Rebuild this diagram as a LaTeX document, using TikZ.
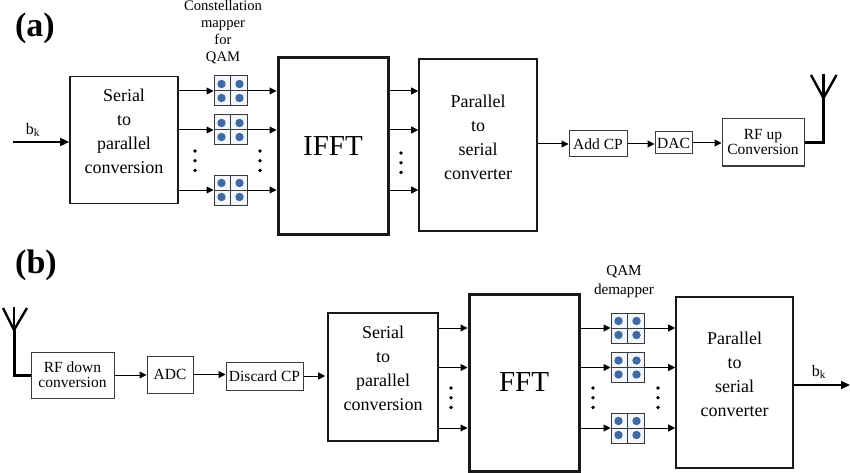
\documentclass[tikz,border=0pt]{standalone}
\usepackage{fontspec}
\setmainfont{Liberation Serif}
\usetikzlibrary{calc, arrows.meta}
\definecolor{dotblue}{HTML}{3F69A0}
\definecolor{cellfill}{HTML}{F3F6FA}
\definecolor{edgegray}{HTML}{3A3A3A}
\tikzset{
  bigbox/.style={draw=black!90, line width=1.6pt, inner sep=0pt, align=center, font=\fontsize{18}{24}\selectfont},
  fftbox/.style={draw=black!90, line width=3pt, inner sep=0pt, font=\fontsize{29}{34}\selectfont},
  smallbox/.style={draw=edgegray, line width=1pt, inner sep=0pt, align=center, font=\fontsize{15.5}{15}\selectfont},
  mapbox/.style={draw=edgegray, line width=1pt, fill=cellfill, inner sep=0pt, minimum width=33pt, minimum height=30pt},
  arr/.style={-{Triangle[length=7pt,width=7pt]}, line width=1pt},
  bigarr/.style={-{Triangle[length=9pt,width=8pt]}, line width=1.5pt},
  antenna/.style={line width=3pt, line join=miter},
  antarm/.style={line width=2.4pt},
  caption/.style={font=\fontsize{14.6}{17}\selectfont, align=center},
  panel/.style={font=\fontsize{34}{34}\selectfont\bfseries},
}
\begin{document}
\begin{tikzpicture}[x=1pt, y=-1pt]

\newcommand{\cellx}{9}
\newcommand{\celly}{7}

% one QAM block: name, x, y
\newcommand{\qamblock}[3]{
\node [mapbox] (#1) at (#2, #3) {};
\draw [edgegray, line width=1pt] (#1.north) -- (#1.south);
\draw [edgegray, line width=1pt] (#1.west) -- (#1.east);
\foreach \sx in {-1,1}
\foreach \sy in {-1,1}
{
\fill [dotblue] ($(#1) + (\sx*\cellx, \sy*\celly)$) circle (4.2);
}
}

% three dots: x, y of the top one
\newcommand{\threedots}[2]{
\foreach \i in {0,1,2}
{
\fill [black] (#1, #2+\i*9.7) circle (1.9);
}
}

\useasboundingbox (0,0) rectangle (850,473);

% (a) transmitter
\node [panel] (panelA) at (35, 28) {(a)};

\node [bigbox, minimum width=108pt, minimum height=127pt] (serialA) at (124, 140) {Serial\\to\\parallel\\conversion\\[-6pt]~};
\node [fftbox, minimum width=110pt, minimum height=176pt] (ifftA) at (333, 146) {IFFT};
\node [bigbox, minimum width=118pt, minimum height=172pt] (parallelA) at (478, 145) {Parallel\\to\\serial\\converter\\[-9pt]~};
\node [smallbox, minimum width=58pt, minimum height=26pt] (addcp) at (598, 144) {Add CP};
\node [smallbox, minimum width=37pt, minimum height=22pt] (dac) at (673.5, 143) {DAC};
\node [smallbox, minimum width=82pt, minimum height=47pt] (rfup) at (763, 142.5) {RF up\\Conversion};

\qamblock{mapA}{230.5}{91}
\qamblock{mapB}{230.5}{130}
\qamblock{mapC}{230.5}{190}

\node [caption] (mapcaption) at (223, 32.5) {Constellation\\mapper\\for\\QAM};

\coordinate (bkinA) at (13, 142);
\draw [bigarr] (bkinA) -- (bkinA -| serialA.west);
\node [font=\fontsize{16}{16}\selectfont] (bkA) at (33, 130) {b\textsubscript{k}};

\foreach \m in {mapA,mapB,mapC}
{
\draw [arr] (serialA.east |- \m.west) -- (\m.west);
\draw [arr] (\m.east) -- (ifftA.west |- \m.east);
\draw [arr] (ifftA.east |- \m.east) -- (parallelA.west |- \m.east);
}

\threedots{195}{151}
\threedots{260}{151}
\threedots{401}{153}

\draw [arr] (parallelA.east |- addcp.west) -- (addcp.west);
\draw [arr] (addcp.east) -- (dac.west |- addcp.east);
\draw [arr] (dac.east) -- (rfup.west |- dac.east);

\coordinate (antfootA) at (823.5, 142.5);
\coordinate (antjoinA) at (823.5, 98);
\draw [antenna] (rfup.east) -- (antfootA) -- (antjoinA);
\draw [antarm] (811, 75) -- (antjoinA) -- (836.5, 75);
\draw [antarm] (antjoinA) -- ++(0, -24);

% (b) receiver
\node [panel] (panelB) at (36, 265) {(b)};

\node [smallbox, minimum width=83pt, minimum height=46pt] (rfdown) at (72.5, 375) {RF down\\conversion};
\node [smallbox, minimum width=46pt, minimum height=37pt] (adc) at (170, 374.5) {ADC};
\node [smallbox, minimum width=77pt, minimum height=28pt] (discard) at (264.5, 376) {Discard CP};
\node [bigbox, minimum width=110pt, minimum height=128pt] (serialB) at (383, 377) {Serial\\to\\parallel\\conversion\\[-6pt]~};
\node [fftbox, minimum width=110pt, minimum height=177pt] (fftB) at (524, 382.5) {FFT};
\node [bigbox, minimum width=117pt, minimum height=171pt] (parallelB) at (734.5, 382.5) {Parallel\\to\\serial\\converter\\[-8pt]~};

\qamblock{demapA}{627.5}{328}
\qamblock{demapB}{627.5}{367.5}
\qamblock{demapC}{627.5}{428}

\node [caption, font=\fontsize{15.2}{19}\selectfont] (demapcaption) at (624, 282) {QAM\\demapper};

\coordinate (antfootB) at (14, 375);
\coordinate (antjoinB) at (14, 330);
\draw [antenna] (rfdown.west) -- (antfootB) -- (antjoinB);
\draw [antarm] (3, 308) -- (antjoinB) -- (27, 308);
\draw [antarm] (antjoinB) -- ++(0, -23);

\draw [arr] (rfdown.east) -- (adc.west |- rfdown.east);
\draw [arr] (adc.east) -- (discard.west |- adc.east);
\draw [arr] (discard.east) -- ($(serialB.west |- discard.east) + (-2, 0)$);

\foreach \m in {demapA,demapB,demapC}
{
\draw [arr] (serialB.east |- \m.west) -- (fftB.west |- \m.west);
\draw [arr] (fftB.east |- \m.west) -- (\m.west);
\draw [arr] (\m.east) -- (parallelB.west |- \m.east);
}

\threedots{451}{388}
\threedots{593}{388}
\threedots{658}{388}

\coordinate (bkoutB) at (850, 385);
\draw [bigarr] (parallelB.east |- bkoutB) -- (bkoutB);
\node [font=\fontsize{16}{16}\selectfont] (bkB) at (819, 372) {b\textsubscript{k}};

\end{tikzpicture}
\end{document}
